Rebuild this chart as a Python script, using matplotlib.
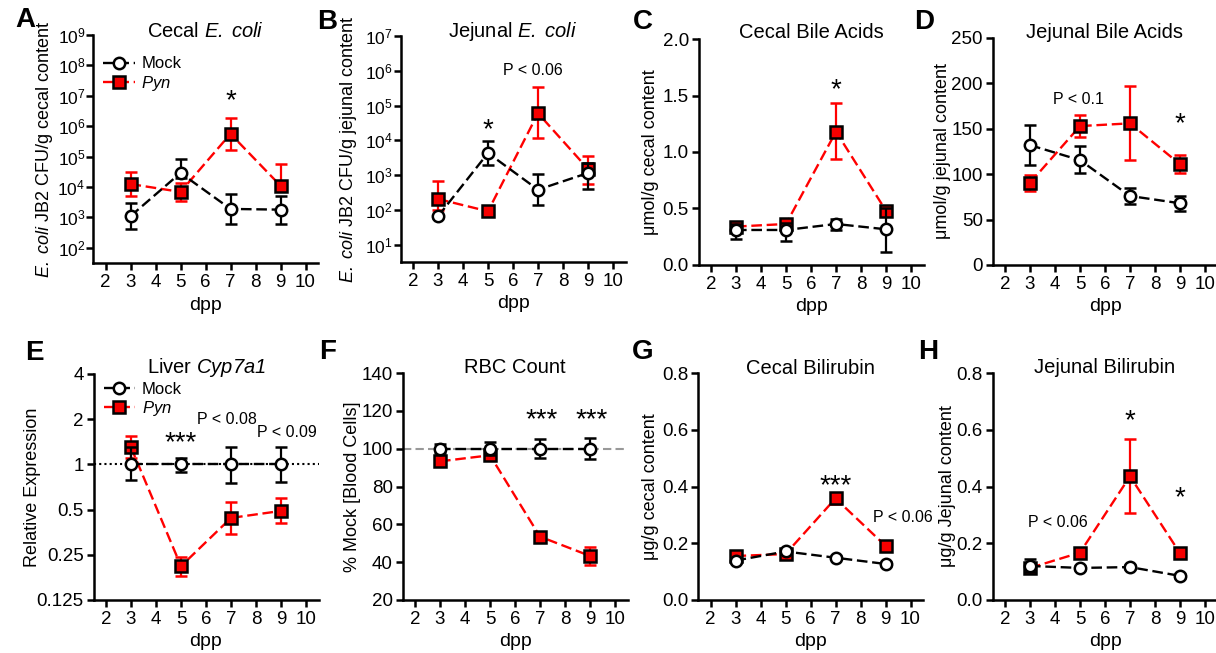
import matplotlib
matplotlib.use("Agg")
import matplotlib.pyplot as plt
from matplotlib.lines import Line2D
from matplotlib.ticker import FixedLocator, FixedFormatter, NullLocator
import numpy as np

plt.rcParams["font.family"] = ["Liberation Sans", "DejaVu Sans"]
plt.rcParams["mathtext.fontset"] = "custom"
plt.rcParams["mathtext.rm"] = "Liberation Sans"
plt.rcParams["mathtext.it"] = "Liberation Sans:italic"
plt.rcParams["mathtext.sf"] = "Liberation Sans:italic"
plt.rcParams["mathtext.bf"] = "Liberation Sans:bold"

# ---------------- data (mean, lower and upper error-bar ends) ----------------
days = [3, 5, 7, 9]

# A: cecal E. coli (CFU/g)
a_mock = [1.1e3, 2.9e4, 1.9e3, 1.8e3]
a_mock_lo = [4.2e2, 2.0e4, 6.1e2, 6.2e2]
a_mock_hi = [3.0e3, 8.5e4, 6.0e3, 4.9e3]
a_pyn = [1.25e4, 6.9e3, 5.6e5, 1.1e4]
a_pyn_lo = [4.9e3, 3.5e3, 1.6e5, 8.0e3]
a_pyn_hi = [3.1e4, 1.35e4, 1.8e6, 5.9e4]

# B: jejunal E. coli (CFU/g)
b_mock = [65, 4.3e3, 380, 1.15e3]
b_mock_lo = [58, 2.0e3, 135, 400]
b_mock_hi = [73, 9.7e3, 1.07e3, 2.2e3]
b_pyn = [205, 91, 6.0e4, 1.5e3]
b_pyn_lo = [100, 86, 1.15e4, 550]
b_pyn_hi = [660, 96, 3.5e5, 3.6e3]

# C: cecal bile acids (umol/g)
c_mock = [0.31, 0.31, 0.363, 0.316]
c_mock_lo = [0.23, 0.21, 0.31, 0.118]
c_mock_hi = [0.36, 0.375, 0.41, 0.50]
c_pyn = [0.34, 0.363, 1.18, 0.48]
c_pyn_lo = [0.32, 0.34, 0.94, 0.46]
c_pyn_hi = [0.36, 0.385, 1.43, 0.50]

# D: jejunal bile acids (umol/g)
d_mock = [132, 115.5, 76, 68]
d_mock_lo = [110, 101, 67, 60]
d_mock_hi = [154, 131, 85, 76.5]
d_pyn = [90.5, 153, 156, 111]
d_pyn_lo = [81.5, 141, 115.5, 101.5]
d_pyn_hi = [99.5, 165, 197, 121]

# E: liver Cyp7a1 relative expression
e_mock = [1.0, 1.0, 1.0, 1.0]
e_mock_lo = [0.79, 0.89, 0.75, 0.76]
e_mock_hi = [1.31, 1.10, 1.31, 1.30]
e_pyn = [1.30, 0.21, 0.44, 0.49]
e_pyn_lo = [1.10, 0.18, 0.343, 0.408]
e_pyn_hi = [1.545, 0.242, 0.563, 0.593]

# F: RBC count (% of mock)
f_mock = [100, 100, 100, 100]
f_mock_lo = [97.5, 96.5, 95, 94.5]
f_mock_hi = [102.5, 103.5, 105, 105.5]
f_pyn = [93.3, 96.5, 53.5, 43.3]
f_pyn_lo = [91.5, 95.5, 51.5, 38.7]
f_pyn_hi = [95, 97.5, 55.5, 48]

# G: cecal bilirubin (ug/g)
g_mock = [0.139, 0.171, 0.149, 0.127]
g_mock_lo = [0.132, 0.165, 0.143, 0.120]
g_mock_hi = [0.146, 0.177, 0.155, 0.134]
g_pyn = [0.155, 0.162, 0.358, 0.191]
g_pyn_lo = [0.148, 0.155, 0.338, 0.177]
g_pyn_hi = [0.162, 0.169, 0.377, 0.206]

# H: jejunal bilirubin (ug/g)
h_mock = [0.12, 0.113, 0.116, 0.085]
h_mock_lo = [0.10, 0.107, 0.110, 0.079]
h_mock_hi = [0.143, 0.119, 0.122, 0.091]
h_pyn = [0.113, 0.167, 0.436, 0.165]
h_pyn_lo = [0.105, 0.152, 0.308, 0.148]
h_pyn_hi = [0.121, 0.182, 0.568, 0.180]

# ---------------- styling ----------------
W, H = 1216, 653
RED = "#ff0000"
RED_FILL = "#f60000"
DASH = (0, (4.5, 2))
LW = 1.7
MS = 8.2

fig = plt.figure(figsize=(W / 100, H / 100), dpi=100)


def px_rect(x0, top, x1, bottom):
    return [x0 / W, 1 - bottom / H, (x1 - x0) / W, (bottom - top) / H]


def series(ax, mean, lo, hi, color, ecolor, mfc, marker, z):
    mean = np.asarray(mean, float)
    yerr = np.vstack([mean - np.asarray(lo, float), np.asarray(hi, float) - mean])
    ax.errorbar(days, mean, yerr=yerr, marker=marker, ms=MS, mfc=mfc, mec="black",
                mew=1.8, color=color, ecolor=ecolor, elinewidth=1.6, capsize=4.5,
                capthick=1.6, linestyle=DASH, lw=LW, zorder=z, clip_on=False)


def base_axes(rect, title, ylabel, ylab_x, title_y=1.025, ticksize=13.5, ypad=2):
    ax = fig.add_axes(rect)
    for s in ("top", "right"):
        ax.spines[s].set_visible(False)
    for s in ("left", "bottom"):
        ax.spines[s].set_linewidth(1.8)
    ax.set_xlim(1.5, 10.5)
    ax.set_xticks(range(2, 11))
    ax.tick_params(axis="both", which="major", direction="out", length=5, width=1.8,
                   labelsize=13.5, pad=3)
    ax.tick_params(axis="y", labelsize=ticksize, pad=ypad)
    ax.tick_params(axis="both", which="minor", length=0)
    ax.set_xlabel("dpp", fontsize=14, va="center")
    ax.xaxis.set_label_coords(0.5, -0.185)
    ax.set_ylabel(ylabel, fontsize=13, va="center")
    ax.yaxis.set_label_coords(ylab_x, 0.5)
    ax.text(0.5, title_y, title, transform=ax.transAxes, ha="center", va="center",
            fontsize=14.5)
    return ax


def add_legend(ax, top):
    h_mock = Line2D([], [], color="black", ls=DASH, lw=LW, marker="o", ms=MS,
                    mfc="white", mec="black", mew=1.8)
    h_pyn = Line2D([], [], color=RED, ls=DASH, lw=LW, marker="s", ms=MS,
                   mfc=RED_FILL, mec="black", mew=1.8)
    ax.legend([h_mock, h_pyn], ["Mock", r"$\mathsf{Pyn}$"], loc="upper left",
              bbox_to_anchor=(0.0, top), frameon=False, fontsize=12,
              handlelength=1.9, handletextpad=0.4, labelspacing=0.15,
              borderaxespad=0.2)


def draw_pair(ax, m, mlo, mhi, p, plo, phi):
    series(ax, p, plo, phi, RED, RED, RED_FILL, "s", 3)
    series(ax, m, mlo, mhi, "black", "black", "white", "o", 4)


def star(ax, x, y, text, size=20):
    ax.text(x, y, text, ha="center", va="center", fontsize=size, zorder=6)


def note(ax, x, y, text):
    ax.text(x, y, text, ha="center", va="center", fontsize=11.5, zorder=6)


def panel_letter(x, y, letter):
    fig.text(x / W, 1 - y / H, letter, ha="center", va="center", fontsize=20,
             fontweight="bold")


# ---------------- A ----------------
axA = base_axes(px_rect(93, 35, 318, 263), r"Cecal $\mathsf{E.\;coli}$",
                r"$\mathsf{E.\;coli}$ JB2 CFU/g cecal content", -0.215, 1.015,
                ticksize=12.5, ypad=0.5)
axA.set_yscale("log")
axA.set_ylim(10 ** 1.5, 1e9)
axA.yaxis.set_major_locator(FixedLocator([10.0 ** k for k in range(2, 10)]))
axA.yaxis.set_minor_locator(NullLocator())
draw_pair(axA, a_mock, a_mock_lo, a_mock_hi, a_pyn, a_pyn_lo, a_pyn_hi)
add_legend(axA, 0.95)
star(axA, 7, 6.5e6, "*")

# ---------------- B ----------------
axB = base_axes(px_rect(400.5, 36, 625.5, 262), r"Jejunal $\mathsf{E.\;coli}$",
                r"$\mathsf{E.\;coli}$ JB2 CFU/g jejunal content", -0.232, 1.018,
                ticksize=12.5, ypad=0.5)
axB.set_yscale("log")
axB.set_ylim(10 ** 0.5, 1e7)
axB.yaxis.set_major_locator(FixedLocator([10.0 ** k for k in range(1, 8)]))
axB.yaxis.set_minor_locator(NullLocator())
draw_pair(axB, b_mock, b_mock_lo, b_mock_hi, b_pyn, b_pyn_lo, b_pyn_hi)
star(axB, 5, 2.0e4, "*")
note(axB, 6.8, 1.0e6, "P < 0.06")

# ---------------- C ----------------
axC = base_axes(px_rect(698.5, 39, 923.5, 265), "Cecal Bile Acids",
                "μmol/g cecal content", -0.213, 1.03)
axC.set_ylim(0, 2.0)
axC.set_yticks([0, 0.5, 1.0, 1.5, 2.0])
axC.set_yticklabels(["0.0", "0.5", "1.0", "1.5", "2.0"])
draw_pair(axC, c_mock, c_mock_lo, c_mock_hi, c_pyn, c_pyn_lo, c_pyn_hi)
star(axC, 7, 1.55, "*")

# ---------------- D ----------------
axD = base_axes(px_rect(992.5, 38, 1217.5, 265), "Jejunal Bile Acids",
                "μmol/g jejunal content", -0.222, 1.026)
axD.set_ylim(0, 250)
axD.set_yticks([0, 50, 100, 150, 200, 250])
draw_pair(axD, d_mock, d_mock_lo, d_mock_hi, d_pyn, d_pyn_lo, d_pyn_hi)
note(axD, 4.92, 182, "P < 0.1")
star(axD, 9, 155, "*")

# ---------------- E ----------------
axE = base_axes(px_rect(93.5, 374, 318.5, 600), r"Liver $\mathsf{Cyp7a1}$",
                "Relative Expression", -0.27, 1.03)
axE.set_yscale("log", base=2)
axE.set_ylim(0.125, 4)
e_ticks = [0.125, 0.25, 0.5, 1, 2, 4]
axE.yaxis.set_major_locator(FixedLocator(e_ticks))
axE.yaxis.set_major_formatter(FixedFormatter(["0.125", "0.25", "0.5", "1", "2", "4"]))
axE.yaxis.set_minor_locator(NullLocator())
axE.axhline(1, color="black", ls=(0, (1, 1.5)), lw=1.5, zorder=1)
draw_pair(axE, e_mock, e_mock_lo, e_mock_hi, e_pyn, e_pyn_lo, e_pyn_hi)
add_legend(axE, 1.01)
star(axE, 5, 1.38, "***")
note(axE, 6.84, 1.98, "P < 0.08")
note(axE, 9.24, 1.62, "P < 0.09")

# ---------------- F ----------------
axF = base_axes(px_rect(402.5, 373, 627.5, 600), "RBC Count",
                "% Mock [Blood Cells]", -0.222, 1.026)
axF.set_ylim(20, 140)
axF.set_yticks(range(20, 141, 20))
axF.axhline(100, color="#999999", ls=(0, (4, 2)), lw=1.5, zorder=1)
draw_pair(axF, f_mock, f_mock_lo, f_mock_hi, f_pyn, f_pyn_lo, f_pyn_hi)
star(axF, 7.05, 115, "***")
star(axF, 9.05, 115, "***")

# ---------------- G ----------------
axG = base_axes(px_rect(698, 373, 923, 600), "Cecal Bilirubin",
                "μg/g cecal content", -0.213, 1.02)
axG.set_ylim(0, 0.8)
axG.set_yticks([0, 0.2, 0.4, 0.6, 0.8])
axG.set_yticklabels(["0.0", "0.2", "0.4", "0.6", "0.8"])
draw_pair(axG, g_mock, g_mock_lo, g_mock_hi, g_pyn, g_pyn_lo, g_pyn_hi)
star(axG, 7, 0.40, "***")
note(axG, 9.7, 0.289, "P < 0.06")

# ---------------- H ----------------
axH = base_axes(px_rect(992.5, 373, 1217.5, 600), "Jejunal Bilirubin",
                "μg/g Jejunal content", -0.2, 1.026)
axH.set_ylim(0, 0.8)
axH.set_yticks([0, 0.2, 0.4, 0.6, 0.8])
axH.set_yticklabels(["0.0", "0.2", "0.4", "0.6", "0.8"])
draw_pair(axH, h_mock, h_mock_lo, h_mock_hi, h_pyn, h_pyn_lo, h_pyn_hi)
star(axH, 7, 0.63, "*")
star(axH, 9, 0.36, "*")
note(axH, 4.12, 0.273, "P < 0.06")

# ---------------- panel letters ----------------
for (x, y, s) in [(25, 20, "A"), (327, 22, "B"), (643, 22, "C"), (924, 22, "D"),
                  (34, 353, "E"), (328, 352, "F"), (643, 352, "G"), (928, 352, "H")]:
    panel_letter(x, y, s)

fig.savefig("out.png", dpi=100)
